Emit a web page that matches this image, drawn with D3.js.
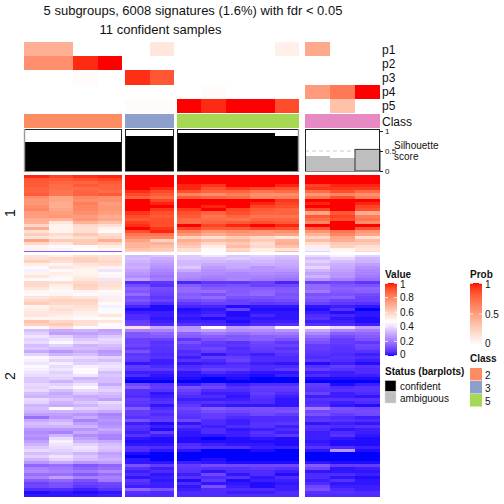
<!DOCTYPE html>
<html><head><meta charset="utf-8">
<script src="https://cdn.jsdelivr.net/npm/d3@7"></script>
<style>html,body{margin:0;background:#fff}svg{display:block}text{font-family:"Liberation Sans",sans-serif;fill:#111}</style>
</head><body><div id="c"></div>
<script>
const titleLines = ["5 subgroups, 6008 signatures (1.6%) with fdr < 0.05", "11 confident samples"];
const panelSizes = [4, 2, 5, 3];
const annotationNames = ["p1", "p2", "p3", "p4", "p5"];
const p1Values = [.42,.42,0,0, 0,.13, 0,0,0,0,.08, .45,0,0];
const p2Values = [.58,.58,.95,1, 0,0, 0,0,0,0,0, 0,0,0];
const p3Values = [0,0,.02,0, .94,.82, 0,0,0,0,0, 0,0,0];
const p4Values = [0,0,0,0, 0,0, 0,.02,0,0,0, .52,.68,1];
const p5Values = [0,0,0,0, .02,.02, 1,.95,1,1,.86, 0,.33,0];
const classIds = ["2","3","5","4"];
const silhouetteValues = [.73,.73,.73,.73, .875,.875, .96,.96,.96,.96,.875, .375,.33,.54];
const silhouetteStatus = ["c","c","c","c","c","c","c","c","c","c","c","a","a","b"];
const valueTicks = [0,.2,.4,.6,.8,1];
const probTicks = [0,.5,1];
const classLegend = ["2","3","5"];
const statusLegend = ["confident","ambiguous"];

const sliceOne = [
[98,94,97,98,100,100,100,100,100,100,100,100,100,100],
[90,90,92,94,100,100,100,100,100,100,100,100,100,100],
[90,88,88,90,100,100,100,100,100,100,100,100,100,100],
[90,86,90,88,100,100,98,96,100,100,98,94,98,98],
[88,86,86,88,100,98,98,92,96,94,92,96,96,96],
[88,84,88,86,97,93,92,88,88,84,86,86,92,86],
[90,84,88,90,93,90,80,78,82,78,78,76,80,78],
[78,72,80,78,88,86,90,88,86,80,82,84,92,82],
[76,72,78,78,100,94,100,100,100,100,96,100,100,100],
[76,70,82,74,100,98,100,100,100,98,94,98,100,98],
[78,70,80,76,100,100,100,98,100,94,92,100,100,94],
[80,72,80,76,100,96,96,100,94,90,88,94,100,92],
[74,74,78,74,96,92,92,88,92,88,88,72,90,70],
[74,76,74,70,93,90,90,84,88,84,84,90,94,82],
[70,68,76,72,90,92,86,86,84,88,88,86,92,84],
[68,54,68,64,95,92,86,88,90,92,90,80,100,78],
[58,51,58,56,97,92,100,94,98,100,98,100,100,100],
[70,50,56,50,100,96,94,90,90,94,92,90,100,92],
[55,50,56,48,92,98,82,76,78,76,78,76,84,76],
[61,57,63,57,84,84,76,70,74,74,72,68,80,72],
[55,53,57,59,79,80,60,56,62,58,54,58,72,56],
[72,62,62,70,73,60,70,66,68,62,68,66,70,66],
[58,54,62,58,68,69,66,58,62,56,70,56,62,62],
[50,46,48,52,68,65,62,52,66,58,64,52,60,56],
[51,45,47,49,64,62,56,48,58,52,54,44,50,54]
];
const sliceOneEnd = [
[14,14,14,14,58,58,56,46,62,52,66,38,46,58]
];
const sliceTwo = [
[54,52,56,55,33,35,37,42,36,38,35,40,44,38],
[56,58,60,56,34,31,36,35,37,35,33,34,39,33],
[60,56,60,58,32,29,33,33,32,33,31,38,34,32],
[52,50,54,56,30,27,33,30,30,31,30,34,31,28],
[46,54,52,50,31,25,36,27,30,26,28,39,30,25],
[44,46,50,42,28,23,30,25,26,26,26,32,28,23],
[50,52,50,46,26,21,25,24,23,24,23,28,26,22],
[54,50,52,50,24,19,24,22,22,22,21,32,26,20],
[48,46,54,42,29,21,22,20,23,20,19,26,22,18],
[58,56,58,56,5,7,4,7,7,9,4,9,10,7],
[58,52,60,56,11,6,14,11,12,9,10,17,13,12],
[54,50,58,54,15,11,17,14,14,14,13,17,15,16],
[50,46,50,48,13,10,17,18,14,16,14,20,14,15],
[48,50,46,50,17,9,14,12,15,17,12,12,12,11],
[54,56,54,44,11,7,15,17,12,12,13,14,15,9],
[58,60,60,52,13,9,11,12,9,10,11,12,9,9],
[62,58,58,48,9,5,7,9,9,7,8,9,7,6],
[50,54,56,44,4,1,4,4,1,2,2,2,3,2],
[52,56,54,46,1,1,1,2,9,1,1,1,6,0],
[54,54,52,46,3,3,2,3,1,2,2,3,1,2],
[54,52,50,54,5,3,3,5,1,4,2,5,4,2],
[50,50,46,48,5,2,2,1,2,2,2,6,2,1],
[64,58,56,54,8,3,3,3,1,3,3,3,3,1],
[60,62,56,48,9,5,6,5,3,5,6,6,5,3],
[46,56,48,46,56,30,26,46,28,30,46,50,40,28],
[34,30,32,28,22,22,26,28,24,24,26,30,23,20],
[38,28,28,30,13,16,16,20,18,20,20,23,15,16],
[42,38,32,36,13,14,14,15,13,15,16,18,11,14],
[38,42,36,40,9,9,7,12,14,15,12,14,8,12],
[40,46,40,38,9,6,12,8,6,10,7,12,8,7],
[34,38,32,34,10,7,8,7,7,9,9,8,7,10],
[36,34,34,32,7,6,8,10,5,8,6,8,6,9],
[30,26,30,26,12,6,5,8,6,7,8,7,6,6],
[38,32,34,28,7,5,6,2,5,3,6,6,5,3],
[46,42,40,38,8,6,3,8,8,5,5,5,6,5],
[44,38,36,34,7,3,6,5,9,5,5,7,5,3],
[42,44,38,40,2,3,2,3,5,3,2,1,3,1],
[46,40,44,42,8,5,5,6,6,5,5,6,8,6],
[44,42,48,40,7,7,6,9,8,5,7,8,6,5],
[42,38,46,34,3,3,2,5,3,2,2,3,3,5],
[40,40,42,36,5,2,2,2,2,1,3,5,3,3],
[36,38,32,34,1,1,1,0,1,0,0,1,1,1],
[36,32,36,34,0,0,0,0,0,0,0,0,0,0],
[40,38,42,30,10,7,3,7,3,5,5,8,1,3],
[38,42,46,36,14,8,12,10,6,8,8,7,5,6],
[40,34,40,38,6,6,9,5,5,7,7,6,6,6],
[34,30,36,34,6,2,7,3,3,8,5,9,3,5],
[32,32,30,32,5,3,5,5,2,6,3,3,3,2],
[40,36,32,28,8,5,3,3,3,5,2,6,6,6],
[38,32,36,40,7,6,5,6,5,5,2,5,3,5],
[32,30,32,36,6,2,7,3,2,2,2,6,2,1],
[34,46,38,36,14,5,10,14,12,12,11,20,12,10],
[32,32,32,30,8,7,8,11,10,11,12,10,11,11],
[28,28,26,22,8,5,7,8,7,10,8,12,8,10],
[18,26,30,24,6,7,6,8,5,5,5,6,5,3],
[30,32,22,26,12,8,10,5,3,5,5,7,6,5],
[34,36,28,24,3,1,2,5,3,6,7,2,3,2],
[32,32,32,26,6,3,6,3,5,6,3,6,5,6],
[26,26,26,30,5,1,3,5,2,3,5,5,2,3],
[24,22,30,26,3,8,2,5,3,6,3,3,5,3],
[26,32,24,22,6,3,2,2,3,5,7,3,6,2],
[24,40,28,22,2,1,1,0,1,2,1,3,2,1],
[28,44,32,30,1,1,1,1,1,1,1,2,1,1],
[32,42,38,34,2,2,5,3,2,2,1,3,1,1],
[36,40,42,36,6,5,6,6,6,3,3,6,5,3],
[40,38,40,34,5,2,2,0,0,1,0,2,26,1],
[34,36,32,28,1,0,0,0,0,0,0,0,0,0],
[38,42,36,30,0,0,0,0,0,0,0,0,0,0],
[32,38,34,32,2,0,0,1,0,0,0,0,0,0],
[26,30,26,28,2,2,3,2,1,1,1,2,1,1],
[16,18,13,16,12,8,8,11,10,10,10,14,8,8],
[22,20,16,18,6,3,7,6,6,7,6,10,2,3],
[24,22,20,24,3,5,6,2,5,5,3,2,2,2],
[18,18,14,18,5,2,3,10,2,5,1,5,5,3],
[22,28,22,22,2,3,6,5,6,2,5,5,2,1],
[14,16,12,20,7,2,1,7,1,3,3,3,6,2],
[9,12,9,10,5,3,5,2,2,1,2,5,2,2],
[10,12,7,9,3,3,2,12,3,1,3,10,3,3],
[5,5,3,6,16,12,3,5,5,5,3,12,5,3],
[1,2,1,2,6,5,5,5,3,3,5,6,6,5],
[2,2,2,3,5,5,5,5,5,5,5,5,5,5]
];

const W = 504, H = 504;
const svg = d3.select("#c").append("svg").attr("width", W).attr("height", H);
const colorValue = d3.scaleLinear().domain([0, .47, 1]).range(["#0000ff", "#ffffff", "#ff0000"]).interpolate(d3.interpolateLab);
const colorProb = d3.scaleLinear().domain([0, 1]).range(["#ffffff", "#ff0000"]).interpolate(d3.interpolateLab);
const classColor = d3.scaleOrdinal().domain(["1","2","3","4","5"]).range(["#66C2A5","#FC8D62","#8DA0CB","#E78AC3","#A6D854"]);

const panelExtents = [[24,122],[125,174],[177,299],[305,380]];
const columns = [];
panelSizes.forEach((n, p) => {
  const x = d3.scaleLinear().domain([0, n]).range(panelExtents[p]);
  d3.range(n).forEach(i => columns.push({panel: p, x0: x(i), x1: x(i + 1)}));
});
const crisp = sel => sel.attr("shape-rendering", "crispEdges");

// title
svg.selectAll("text.title").data(titleLines).join("text").attr("class", "title")
  .attr("x", (d, i) => i ? 160.5 : 193).attr("y", (d, i) => i ? 34 : 15)
  .attr("text-anchor", "middle").attr("font-size", 13).text(d => d);

// annotations
const annRows = [p1Values, p2Values, p3Values, p4Values, p5Values];
const annY = d3.scaleBand().domain(annotationNames).range([42, 113]);
annRows.forEach((vals, r) => {
  const name = annotationNames[r];
  crisp(svg.append("g").selectAll("rect").data(vals).join("rect"))
    .attr("x", (d, i) => columns[i].x0).attr("width", (d, i) => columns[i].x1 - columns[i].x0)
    .attr("y", annY(name)).attr("height", annY.bandwidth()).attr("fill", d => colorProb(d));
  svg.append("text").attr("x", 382).attr("y", annY(name) + annY.bandwidth() / 2 + 4.5)
    .attr("font-size", 12).text(name);
});
crisp(svg.append("g").selectAll("rect").data(classIds).join("rect"))
  .attr("x", (d, i) => panelExtents[i][0]).attr("width", (d, i) => panelExtents[i][1] - panelExtents[i][0])
  .attr("y", 114).attr("height", 14).attr("fill", d => classColor(d));
svg.append("text").attr("x", 382).attr("y", 126).attr("font-size", 12).text("Class");

// silhouette
const silY = d3.scaleLinear().domain([0, 1]).range([171, 131]);
const silFill = {c: "#000000", a: "#bebebe", b: "#bebebe"};
crisp(svg.append("g").selectAll("rect").data(silhouetteValues).join("rect"))
  .attr("x", (d, i) => columns[i].x0).attr("width", (d, i) => columns[i].x1 - columns[i].x0)
  .attr("y", d => silY(d)).attr("height", d => silY(0) - silY(d))
  .attr("fill", (d, i) => silFill[silhouetteStatus[i]]);
const lastCol = columns[columns.length - 1];
svg.append("line").attr("x1", 305).attr("x2", lastCol.x0).attr("y1", silY(.5)).attr("y2", silY(.5))
  .attr("stroke", "#cccccc").attr("stroke-dasharray", "4,3");
svg.append("rect").attr("x", lastCol.x0).attr("width", lastCol.x1 - lastCol.x0)
  .attr("y", silY(silhouetteValues[13])).attr("height", silY(0) - silY(silhouetteValues[13]))
  .attr("fill", "none").attr("stroke", "#333").attr("stroke-width", 1);
panelExtents.forEach(e => {
  svg.append("rect").attr("x", e[0] + .5).attr("y", 129.5).attr("width", e[1] - e[0] - 1).attr("height", 42)
    .attr("fill", "none").attr("stroke", "#222").attr("stroke-width", 1);
  svg.append("line").attr("x1", e[0]).attr("x2", e[1]).attr("y1", 171.5).attr("y2", 171.5).attr("stroke", "#888");
});
svg.append("line").attr("x1", 24.5).attr("x2", 24.5).attr("y1", 129).attr("y2", 172).attr("stroke", "#999").attr("stroke-width", 1.4);
svg.append("line").attr("x1", 298.5).attr("x2", 298.5).attr("y1", 129).attr("y2", 172).attr("stroke", "#999").attr("stroke-width", 1.4);
const silAxis = svg.append("g").attr("transform", "translate(380,0)")
  .call(d3.axisRight(silY).tickValues([0, .5, 1]).tickFormat(d3.format("~g")).tickSize(3).tickPadding(2));
silAxis.select(".domain").remove();
silAxis.selectAll("line").attr("stroke", "#222");
silAxis.selectAll("text").attr("font-size", 8).attr("font-family", '"Liberation Sans"');
svg.selectAll("text.sil").data(["Silhouette", "score"]).join("text").attr("class", "sil")
  .attr("x", 394).attr("y", (d, i) => 149 + i * 11).attr("font-size", 10).text(d => d);

// heatmap
function drawSlice(rows, y0, y1) {
  const y = d3.scaleBand().domain(d3.range(rows.length)).range([y0, y1]);
  rows.forEach((row, r) => {
    crisp(svg.append("g").selectAll("rect").data(row).join("rect"))
      .attr("x", (d, i) => columns[i].x0).attr("width", (d, i) => columns[i].x1 - columns[i].x0)
      .attr("y", y(r)).attr("height", y.bandwidth() + .3)
      .attr("fill", d => colorValue(d / 100));
  });
}
drawSlice(sliceOne, 175, 251);
drawSlice(sliceOneEnd, 251, 252);
drawSlice(sliceTwo, 254.5, 497);
[["1", 213], ["2", 376]].forEach(([t, y]) => {
  svg.append("text").attr("transform", `translate(15,${y}) rotate(-90)`).attr("text-anchor", "middle")
    .attr("font-size", 14).text(t);
});

// legends
function title(x, y, t) { svg.append("text").attr("x", x).attr("y", y).attr("font-size", 10).attr("font-weight", "bold").text(t); }
function colorBar(x, y0, y1, scale, ticks) {
  const y = d3.scaleLinear().domain([0, 1]).range([y1, y0]);
  const g = svg.append("g");
  crisp(g.selectAll("rect").data(d3.range(0, y1 - y0)).join("rect"))
    .attr("x", x).attr("width", 12).attr("y", d => y0 + d).attr("height", 1.2)
    .attr("fill", d => scale(y.invert(y0 + d + .5)));
  ticks.forEach(t => {
    const py = Math.min(Math.max(y(t), y0 + .5), y1 - .5);
    g.append("line").attr("x1", x).attr("x2", x + 3).attr("y1", py).attr("y2", py).attr("stroke", "#fff").attr("opacity", .8);
    g.append("line").attr("x1", x + 9).attr("x2", x + 12).attr("y1", py).attr("y2", py).attr("stroke", "#fff").attr("opacity", .8);
    g.append("text").attr("x", x + 15).attr("y", py + (t === 1 ? 4.5 : t === 0 ? 2.5 : 3.5)).attr("font-size", 10).text(d3.format("~g")(t));
  });
}
title(385, 278, "Value");
colorBar(385, 283, 356, colorValue, valueTicks);
title(470, 278, "Prob");
colorBar(470, 283, 345, colorProb, probTicks);
title(385, 375, "Status (barplots)");
statusLegend.forEach((s, i) => {
  svg.append("rect").attr("x", 385).attr("y", 380.5 + i * 11.5).attr("width", 11).attr("height", 11)
    .attr("fill", i ? "#bebebe" : "#000").attr("stroke", "#ddd").attr("stroke-width", .5);
  svg.append("text").attr("x", 400).attr("y", 390 + i * 11.5).attr("font-size", 10).text(s);
});
title(470, 362, "Class");
classLegend.forEach((c, i) => {
  svg.append("rect").attr("x", 470).attr("y", 368 + i * 13).attr("width", 12).attr("height", 12.5)
    .attr("fill", classColor(c));
  svg.append("text").attr("x", 485).attr("y", 378.5 + i * 13).attr("font-size", 10).text(c);
});
</script>
</body></html>
